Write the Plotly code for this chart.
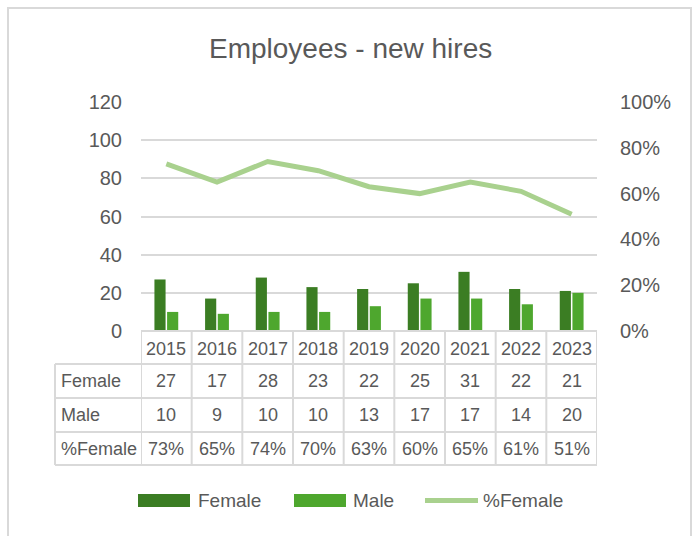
import plotly.graph_objects as go

# ---- data -------------------------------------------------------------
years = ["2015", "2016", "2017", "2018", "2019", "2020", "2021", "2022", "2023"]
female = [27, 17, 28, 23, 22, 25, 31, 22, 21]
male = [10, 9, 10, 10, 13, 17, 17, 14, 20]
pct_female = [0.73, 0.65, 0.74, 0.70, 0.63, 0.60, 0.65, 0.61, 0.51]

# ---- styling ----------------------------------------------------------
W, H = 697, 536
FONT = "Liberation Sans, Arial, sans-serif"
TEXT = "#595959"
GRID = "#d9d9d9"
C_FEMALE = "#3b7d23"
C_MALE = "#4ea72e"
C_PCT = "#a9d18e"


def px(x):
    return x / W


def py(y):
    return 1 - y / H


# plot area in pixels
PL, PR, PT, PB = 141, 597, 102, 331
n = len(years)
idx = list(range(n))  # category positions on the x axis

fig = go.Figure()
fig.add_trace(go.Bar(x=idx, y=female, name="Female", marker=dict(color=C_FEMALE, line=dict(width=0))))
fig.add_trace(go.Bar(x=idx, y=male, name="Male", marker=dict(color=C_MALE, line=dict(width=0))))
fig.add_trace(go.Scatter(x=idx, y=pct_female, name="%Female", yaxis="y2", mode="lines",
                         line=dict(color=C_PCT, width=5), cliponaxis=False))

shapes = []
annotations = []

# outer chart border
shapes.append(dict(type="rect", xref="paper", yref="paper", x0=px(8), x1=px(691), y0=py(545), y1=py(8),
                   line=dict(color=GRID, width=2), layer="below"))

# title
annotations.append(dict(text="Employees - new hires", xref="paper", yref="paper", x=px(350), y=py(49),
                        showarrow=False, xanchor="center", yanchor="middle",
                        font=dict(family=FONT, size=28, color=TEXT)))

# ---- data table -------------------------------------------------------
row_edges = [331, 364, 398, 432, 465]
label_left = 55
line_style = dict(color=GRID, width=2)

# horizontal rules
shapes.append(dict(type="line", xref="x", yref="paper", x0=-0.5, x1=n - 0.5,
                   y0=py(row_edges[0]), y1=py(row_edges[0]), line=line_style))
for yy in row_edges[1:]:
    shapes.append(dict(type="line", xref="paper", yref="paper", x0=px(label_left), x1=px(PR),
                       y0=py(yy), y1=py(yy), line=line_style))
# vertical rules at category boundaries
for k in range(n + 1):
    shapes.append(dict(type="line", xref="x", yref="paper", x0=k - 0.5, x1=k - 0.5,
                       y0=py(row_edges[0]), y1=py(row_edges[-1]), line=line_style))
# left edge of label column
shapes.append(dict(type="line", xref="paper", yref="paper", x0=px(label_left), x1=px(label_left),
                   y0=py(row_edges[1]), y1=py(row_edges[-1]), line=line_style))

cell_font = dict(family=FONT, size=18, color=TEXT)
rows = [
    ("Female", [str(v) for v in female]),
    ("Male", [str(v) for v in male]),
    ("%Female", [f"{round(v * 100)}%" for v in pct_female]),
]
# year header row
for i, yr in zip(idx, years):
    annotations.append(dict(text=yr, xref="x", yref="paper", x=i,
                            y=py((row_edges[0] + row_edges[1]) / 2 + 1),
                            showarrow=False, xanchor="center", yanchor="middle", font=cell_font))
for r, (label, vals) in enumerate(rows):
    yc = py((row_edges[r + 1] + row_edges[r + 2]) / 2)
    annotations.append(dict(text=label, xref="paper", yref="paper", x=px(label_left + 4), y=yc,
                            showarrow=False, xanchor="left", yanchor="middle", font=cell_font))
    for i, v in zip(idx, vals):
        annotations.append(dict(text=v, xref="x", yref="paper", x=i, y=yc,
                                showarrow=False, xanchor="center", yanchor="middle", font=cell_font))

# ---- legend -----------------------------------------------------------
leg_font = dict(family=FONT, size=19, color=TEXT)
leg_y = 500.5
for x0, x1, col, label, tx in [(138, 190, C_FEMALE, "Female", 196), (294, 346, C_MALE, "Male", 351)]:
    shapes.append(dict(type="rect", xref="paper", yref="paper", x0=px(x0), x1=px(x1),
                       y0=py(leg_y + 6.5), y1=py(leg_y - 6.5), fillcolor=col, line=dict(width=0)))
    annotations.append(dict(text=label, xref="paper", yref="paper", x=px(tx), y=py(leg_y),
                            showarrow=False, xanchor="left", yanchor="middle", font=leg_font))
shapes.append(dict(type="line", xref="paper", yref="paper", x0=px(425), x1=px(478),
                   y0=py(leg_y), y1=py(leg_y), line=dict(color=C_PCT, width=5)))
annotations.append(dict(text="%Female", xref="paper", yref="paper", x=px(481), y=py(leg_y),
                        showarrow=False, xanchor="left", yanchor="middle", font=leg_font))

tick_font = dict(family=FONT, size=20, color=TEXT)
fig.update_layout(
    width=W, height=H,
    margin=dict(l=0, r=0, t=0, b=0, pad=0, autoexpand=False),
    paper_bgcolor="white", plot_bgcolor="white",
    showlegend=False,
    barmode="group", bargap=0.5, bargroupgap=0.12,
    xaxis=dict(domain=[px(PL), px(PR)], range=[-0.5, n - 0.5], showticklabels=False, showgrid=False,
               zeroline=False, showline=False, ticks="", automargin=False),
    yaxis=dict(domain=[py(PB), py(PT)], range=[0, 120], dtick=20, showgrid=True, gridcolor=GRID,
               gridwidth=2, zeroline=False, showline=False, ticks="", tickfont=tick_font,
               ticklabelstandoff=18, automargin=False),
    yaxis2=dict(overlaying="y", side="right", range=[0, 1], dtick=0.2, tickformat=".0%",
                showgrid=False, zeroline=False, showline=False, ticks="", tickfont=tick_font,
                ticklabelstandoff=22, automargin=False),
    shapes=shapes,
    annotations=annotations,
)

fig.write_html("out.html")
